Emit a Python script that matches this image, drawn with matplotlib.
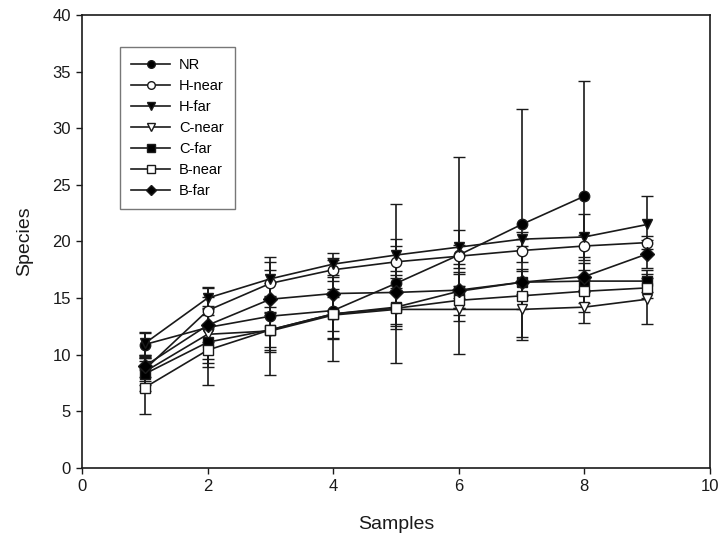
import matplotlib
matplotlib.use("Agg")
import matplotlib.pyplot as plt

plt.rcParams['font.family'] = ['Liberation Sans', 'DejaVu Sans']

samples = [1, 2, 3, 4, 5, 6, 7, 8, 9]

nr = [10.9, 12.4, 13.4, 13.9, 16.3, 18.8, 21.5, 24.0]
nr_err = [1.0, 3.5, 5.2, 4.5, 7.0, 8.7, 10.2, 10.2]

h_near = [8.7, 13.9, 16.3, 17.5, 18.2, 18.7, 19.2, 19.6, 19.9]
h_near_err = [1.0, 1.2, 1.2, 1.0, 1.4, 1.0, 1.0, 1.0, 0.6]

h_far = [11.0, 15.0, 16.7, 18.0, 18.8, 19.5, 20.2, 20.4, 21.5]
h_far_err = [1.0, 1.0, 1.5, 1.0, 1.4, 1.5, 0.6, 2.0, 2.5]

c_near = [8.5, 11.8, 12.1, 13.5, 14.0, 14.0, 14.0, 14.2, 14.9]
c_near_err = [1.2, 2.5, 1.7, 2.0, 1.5, 1.0, 2.4, 1.4, 2.2]

c_far = [8.3, 11.1, 12.2, 13.6, 14.2, 15.6, 16.4, 16.5, 16.5]
c_far_err = [1.5, 1.5, 1.5, 1.5, 1.5, 1.5, 1.2, 1.0, 1.0]

b_near = [7.1, 10.4, 12.2, 13.6, 14.1, 14.8, 15.2, 15.6, 15.9]
b_near_err = [2.3, 3.1, 2.0, 2.2, 1.8, 1.3, 1.2, 1.0, 0.9]

b_far = [9.0, 12.6, 14.9, 15.4, 15.5, 15.7, 16.4, 16.9, 18.9]
b_far_err = [1.0, 1.5, 1.4, 1.5, 1.5, 1.6, 1.0, 1.2, 1.2]

series = [
    ("NR", nr, nr_err, 'o', 'black'),
    ("H-near", h_near, h_near_err, 'o', 'white'),
    ("H-far", h_far, h_far_err, 'v', 'black'),
    ("C-near", c_near, c_near_err, 'v', 'white'),
    ("C-far", c_far, c_far_err, 's', 'black'),
    ("B-near", b_near, b_near_err, 's', 'white'),
    ("B-far", b_far, b_far_err, 'D', 'black'),
]

fig = plt.figure(figsize=(7.21, 5.46), dpi=100)
ax = fig.add_axes([0.1137, 0.143, 0.871, 0.8295])

for name, vals, errs, mk, face in series:
    xs = samples[:len(vals)]
    ms = 7.5 if mk != 'D' else 7
    ax.errorbar(xs, vals, yerr=errs, color='#1a1a1a', lw=1.2, elinewidth=1.2,
                capsize=4.5, capthick=1.2, marker=mk, markersize=ms,
                markerfacecolor=face, markeredgecolor='#1a1a1a', mew=1.0,
                label=name)

ax.set_xlim(0, 10)
ax.set_ylim(0, 40)
ax.set_xticks([0, 2, 4, 6, 8, 10])
ax.set_yticks(range(0, 41, 5))
ax.tick_params(direction='out', length=4.5, width=1, labelsize=12, colors='#1a1a1a')
for s in ax.spines.values():
    s.set_linewidth(1.2)
    s.set_color('#1a1a1a')
ax.set_xlabel('Samples', fontsize=14, labelpad=16, color='#1a1a1a')
ax.set_ylabel('Species', fontsize=14, labelpad=14, color='#1a1a1a')

handles, labels = ax.get_legend_handles_labels()
handles = [h[0] for h in handles]
leg = ax.legend(handles, labels, loc='upper left', bbox_to_anchor=(0.0605, 0.929),
                fontsize=10.5, handlelength=2.7, frameon=True, fancybox=False,
                borderpad=0.75, labelspacing=0.48, handletextpad=0.6,
                borderaxespad=0)
leg.get_frame().set_edgecolor('#555555')
leg.get_frame().set_linewidth(1.0)
for lh in leg.legend_handles:
    lh.set_markersize(5.5)

fig.savefig('out.png', dpi=100)
